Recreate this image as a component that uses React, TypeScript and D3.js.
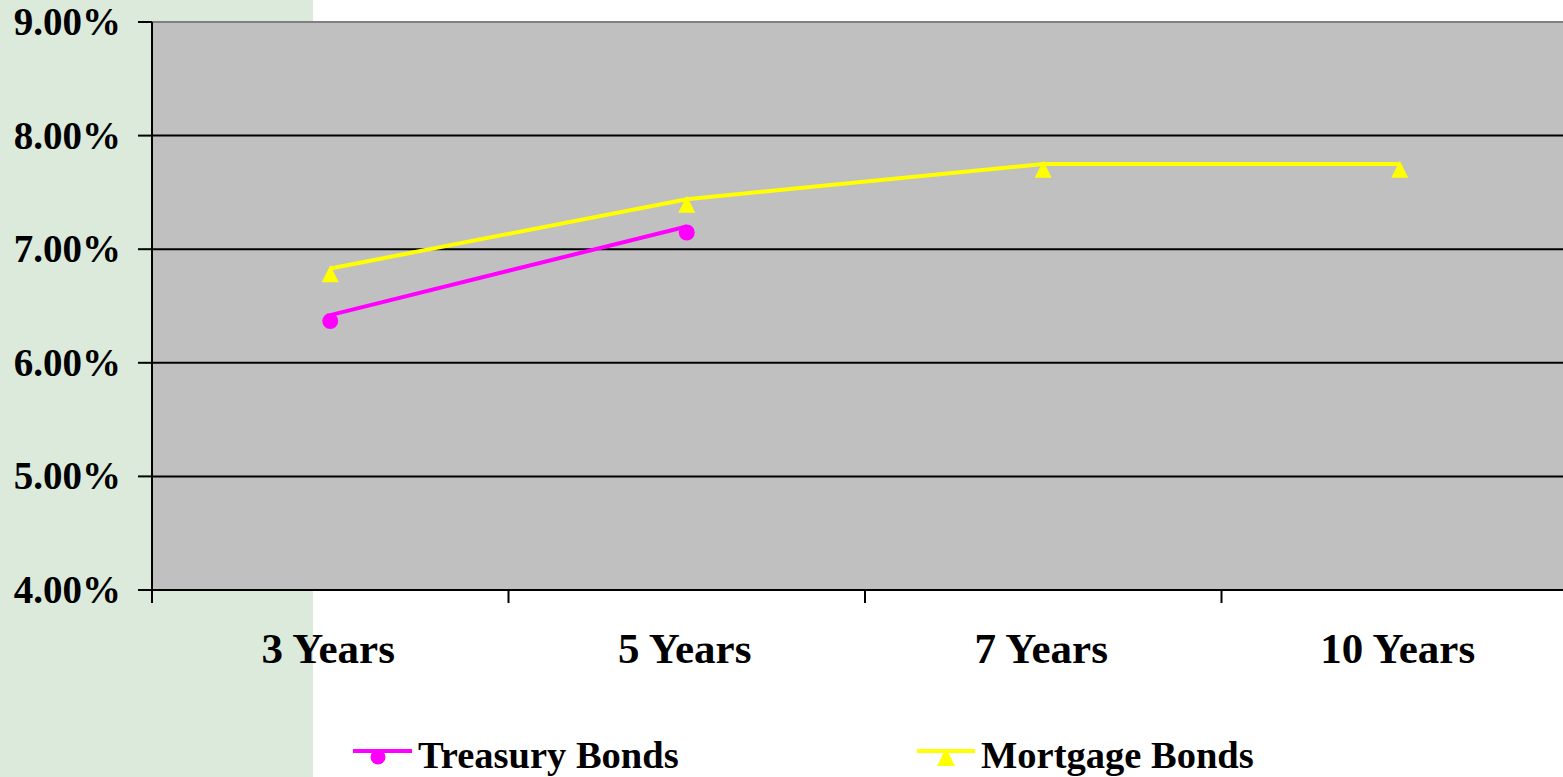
import React from "react";
import * as d3 from "d3";

const categories = ["3 Years", "5 Years", "7 Years", "10 Years"];
const treasuryValues: (number | null)[] = [6.42, 7.2, null, null];
const mortgageValues: (number | null)[] = [6.83, 7.44, 7.75, 7.75];
const yTicks = [4, 5, 6, 7, 8, 9];
const seriesNames = ["Treasury Bonds", "Mortgage Bonds"];

const W = 1563;
const H = 777;
const FONT = "'Liberation Serif', 'Times New Roman', serif";

export default function App() {
  const left = 152;
  const top = 22;
  const bottom = 590;
  const x = d3.scaleBand<string>().domain(categories).range([left, left + 4 * 356.5]).padding(0);
  const y = d3.scaleLinear().domain([4, 9]).range([bottom, top]);
  const cx = (c: string) => (x(c) as number) + x.bandwidth() / 2;

  const lineGen = d3
    .line<[string, number | null]>()
    .defined((d) => d[1] != null)
    .x((d) => cx(d[0]))
    .y((d) => y(d[1] as number));

  const tPts = categories.map((c, i) => [c, treasuryValues[i]] as [string, number | null]);
  const mPts = categories.map((c, i) => [c, mortgageValues[i]] as [string, number | null]);
  const markerDy = 6;
  const tri = (px: number, py: number, s: number) =>
    `M${px},${py - s * 0.55}L${px + s / 2},${py + s * 0.45}L${px - s / 2},${py + s * 0.45}Z`;

  return (
    <svg
      width={W}
      height={H}
      style={{ position: "absolute", left: 0, top: 0, background: "#fff" }}
      fontFamily={FONT}
    >
      <rect x={0} y={0} width={313} height={H} fill="#DCEADC" />
      <rect x={left} y={top} width={W - left} height={bottom - top} fill="#C0C0C0" />
      {yTicks.slice(1, -1).map((t) => (
        <line key={t} x1={left} x2={W} y1={y(t)} y2={y(t)} stroke="#000" strokeWidth={2} />
      ))}
      <line x1={left} x2={W} y1={top} y2={top} stroke="#808080" strokeWidth={2} />
      <line x1={left} x2={left} y1={top} y2={bottom} stroke="#000" strokeWidth={2} />
      <line x1={left} x2={W} y1={bottom} y2={bottom} stroke="#000" strokeWidth={2} />
      {yTicks.map((t) => (
        <g key={t}>
          <line x1={138} x2={left} y1={y(t)} y2={y(t)} stroke="#000" strokeWidth={2} />
          <text x={121} y={y(t) + 13} textAnchor="end" fontWeight="bold" fontSize={39} fill="#000">
            {t.toFixed(2) + "%"}
          </text>
        </g>
      ))}
      {categories.map((c) => (
        <line
          key={c}
          x1={x(c) as number}
          x2={x(c) as number}
          y1={bottom}
          y2={bottom + 13}
          stroke="#000"
          strokeWidth={2}
        />
      ))}
      {categories.map((c) => (
        <text key={c} x={cx(c) - 2} y={663} textAnchor="middle" fontWeight="bold" fontSize={43} fill="#000">
          {c}
        </text>
      ))}
      <path d={lineGen(mPts) || ""} fill="none" stroke="#FFFF00" strokeWidth={4} />
      <path d={lineGen(tPts) || ""} fill="none" stroke="#FF00FF" strokeWidth={4} />
      {mPts
        .filter((d) => d[1] != null)
        .map((d) => (
          <path key={d[0]} d={tri(cx(d[0]), y(d[1] as number) + markerDy, 17)} fill="#FFFF00" />
        ))}
      {tPts
        .filter((d) => d[1] != null)
        .map((d) => (
          <circle key={d[0]} cx={cx(d[0])} cy={y(d[1] as number) + markerDy} r={8} fill="#FF00FF" />
        ))}
      <g>
        <line x1={353} x2={412} y1={751} y2={751} stroke="#FF00FF" strokeWidth={4} />
        <circle cx={378} cy={757} r={7.5} fill="#FF00FF" />
        <text x={418} y={768} fontWeight="bold" fontSize={38.5} fill="#000">
          {seriesNames[0]}
        </text>
        <line x1={917} x2={975} y1={751} y2={751} stroke="#FFFF00" strokeWidth={4} />
        <path d={tri(946, 758, 18)} fill="#FFFF00" />
        <text x={981} y={768} fontWeight="bold" fontSize={38.5} fill="#000">
          {seriesNames[1]}
        </text>
      </g>
    </svg>
  );
}
